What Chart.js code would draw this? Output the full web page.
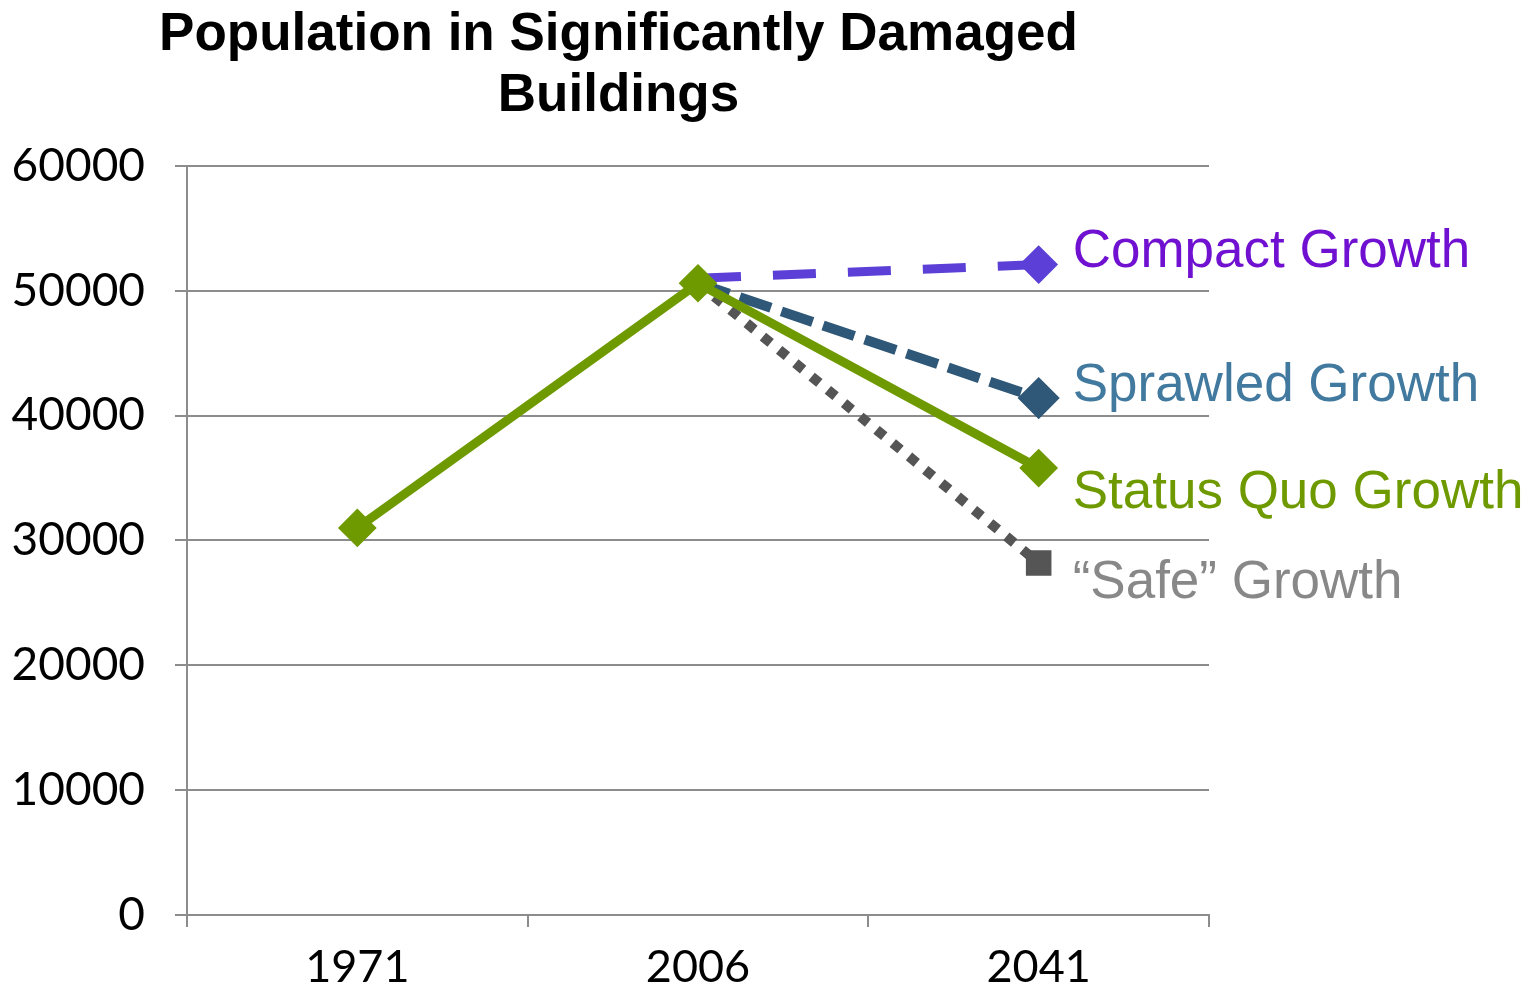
<!DOCTYPE html>
<html>
<head>
<meta charset="utf-8">
<script src="https://cdn.jsdelivr.net/npm/chart.js@4"></script>
<style>
  html, body { margin: 0; padding: 0; background: #fff; }
  canvas { display: block; }
</style>
</head>
<body>
<canvas id="chart" width="1535" height="988"></canvas>
<script>
const categories = ['1971', '2006', '2041'];
const statusQuo = [31000, 50600, 35800];
const compact = [null, 51000, 52100];
const sprawled = [null, 50600, 41400];
const safe = [null, 50600, 28200];
const yTicks = [0, 10000, 20000, 30000, 40000, 50000, 60000];

// writes each series' name to the right of its last point
const endLabels = {
  id: 'endLabels',
  afterLayout(chart) {
    // title sits a little right of the padded box centre
    if (chart.titleBlock) {
      chart.titleBlock.left += 14;
      chart.titleBlock.right += 14;
    }
  },
  afterDatasetsDraw(chart) {
    const ctx = chart.ctx;
    ctx.save();
    ctx.font = '53px "Liberation Sans", Arial, sans-serif';
    ctx.textBaseline = 'middle';
    ctx.textAlign = 'left';
    chart.data.datasets.forEach((ds, i) => {
      const meta = chart.getDatasetMeta(i);
      const pt = meta.data[meta.data.length - 1];
      ctx.fillStyle = ds.labelColor;
      ctx.fillText(ds.label, pt.x + 34, pt.y + ds.labelDy);
    });
    ctx.restore();
  }
};

new Chart(document.getElementById('chart'), {
  type: 'line',
  data: {
    labels: categories,
    datasets: [
      {
        label: 'Status Quo Growth',
        data: statusQuo,
        borderColor: '#6e9a00',
        backgroundColor: '#6e9a00',
        borderWidth: 9,
        pointStyle: 'rectRot',
        pointRadius: 13,
        labelColor: '#6e9a00',
        labelDy: 25
      },
      {
        label: 'Compact Growth',
        data: compact,
        borderColor: '#5b3fd6',
        backgroundColor: '#5b3fd6',
        borderWidth: 9,
        borderDash: [43, 32],
        pointStyle: 'rectRot',
        pointRadius: [0, 0, 13],
        labelColor: '#7010d0',
        labelDy: -12
      },
      {
        label: 'Sprawled Growth',
        data: sprawled,
        borderColor: '#2f5878',
        backgroundColor: '#2f5878',
        borderWidth: 10,
        borderDash: [33, 11],
        pointStyle: 'rectRot',
        pointRadius: [0, 0, 14],
        labelColor: '#41799f',
        labelDy: -12
      },
      {
        label: '\u201CSafe\u201D Growth',
        data: safe,
        borderColor: '#555555',
        backgroundColor: '#555555',
        borderWidth: 10,
        borderDash: [10, 11],
        pointStyle: 'rect',
        pointRadius: [0, 0, 11],
        labelColor: '#888888',
        labelDy: 20
      }
    ]
  },
  options: {
    responsive: false,
    animation: false,
    spanGaps: false,
    layout: { padding: { left: 0, right: 326, top: 0, bottom: 0 } },
    plugins: {
      legend: { display: false },
      tooltip: { enabled: false },
      title: {
        display: true,
        text: ['Population in Significantly Damaged', 'Buildings'],
        color: '#000',
        font: { family: '"Liberation Sans", Arial, sans-serif', size: 53, weight: 'bold', lineHeight: 1.15 },
        padding: { top: 5, bottom: 39 }
      }
    },
    scales: {
      x: {
        offset: true,
        afterFit(axis) { axis.height = 73; },
        grid: {
          offset: true,
          drawOnChartArea: false,
          tickLength: 12,
          color: '#8c8c8c',
          lineWidth: 2
        },
        border: { color: '#8c8c8c', width: 2 },
        ticks: {
          color: '#000',
          padding: 18,
          font: { family: 'Lato, sans-serif', size: 45, lineHeight: 1 }
        }
      },
      y: {
        min: 0,
        max: 60000,
        afterBuildTicks(axis) { axis.ticks = yTicks.map(v => ({ value: v })); },
        afterFit(axis) { axis.width = 187; },
        grid: { tickLength: 12, color: '#8c8c8c', lineWidth: 2 },
        border: { color: '#8c8c8c', width: 2 },
        ticks: {
          color: '#000',
          padding: 30,
          callback: v => String(v),
          font: { family: 'Lato, sans-serif', size: 46 }
        }
      }
    }
  },
  plugins: [endLabels]
});
</script>
</body>
</html>
